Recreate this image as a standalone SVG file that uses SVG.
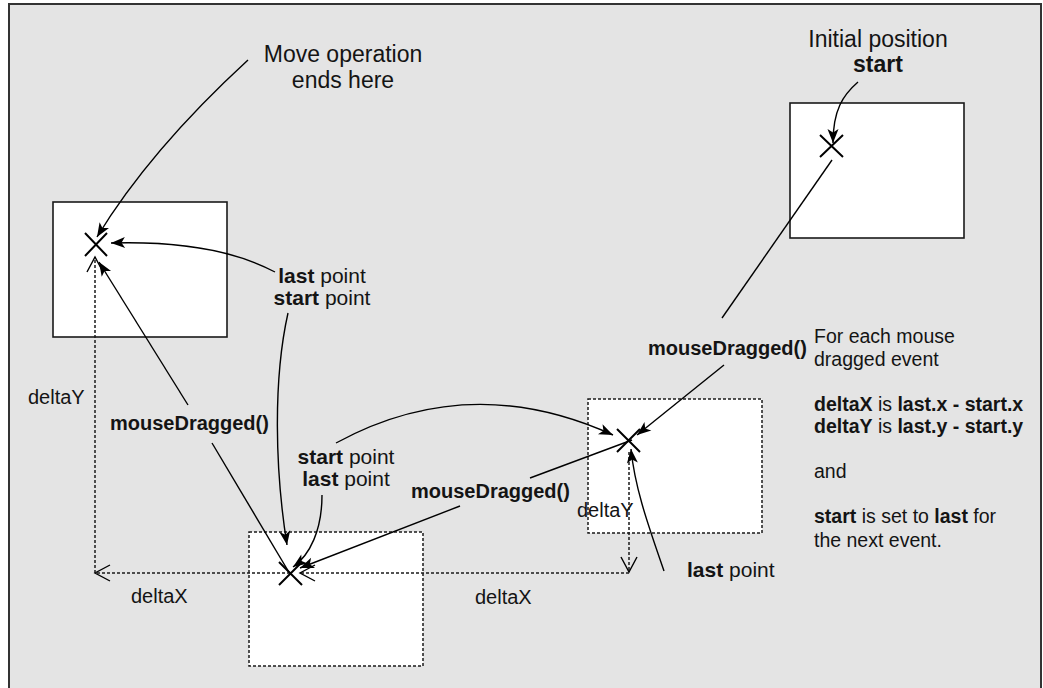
<svg xmlns="http://www.w3.org/2000/svg" width="1043" height="688" viewBox="0 0 1043 688">
<style>
  text { font-family: "Liberation Sans", Arial, sans-serif; fill: #141414; }
  .t { font-size: 20px; }
  .p { font-size: 21px; }
  .big { font-size: 23px; }
  .note { font-size: 19.5px; }
  .b { font-weight: bold; }
  .box { fill: #ffffff; stroke: #1a1a1a; stroke-width: 1.6; }
  .dbox { fill: #ffffff; stroke: #1a1a1a; stroke-width: 1.5; stroke-dasharray: 3 2; }
  .xm { stroke: #000; stroke-width: 2; fill: none; }
  .c { stroke: #000; stroke-width: 1.4; fill: none; }
  .ca { stroke: #000; stroke-width: 1.4; fill: none; marker-end: url(#ah); }
  .da { stroke: #1a1a1a; stroke-width: 1.5; fill: none; stroke-dasharray: 3 2; marker-end: url(#oh); }
</style>
<defs>
  <marker id="ah" viewBox="-15 -6 16 12" refX="0" refY="0" markerWidth="16" markerHeight="12" markerUnits="userSpaceOnUse" orient="auto">
    <path d="M0,0 L-14,-5.5 L-10.5,0 L-14,5.5 Z" fill="#000"/>
  </marker>
  <marker id="oh" viewBox="-17 -10 19 20" refX="0" refY="0" markerWidth="19" markerHeight="20" markerUnits="userSpaceOnUse" orient="auto">
    <path d="M-15,-8 L0,0 L-15,8" fill="none" stroke="#000" stroke-width="1.4"/>
  </marker>
</defs>
<rect x="0" y="0" width="1043" height="688" fill="#ffffff"/>
<rect x="9" y="4" width="1032" height="720" fill="#e4e4e4" stroke="#333333" stroke-width="2"/>

<g id="node-end">
  <rect class="box" x="53" y="202" width="174" height="135"/>
  <path class="xm" d="M85,233 L107,256 M107,233 L85,256"/>
</g>
<g id="node-start">
  <rect class="box" x="790" y="103" width="174" height="135"/>
  <path class="xm" d="M820,135 L843,157 M843,135 L820,157"/>
</g>
<g id="node-b">
  <rect class="dbox" x="588" y="399" width="174" height="134"/>
  <path class="xm" d="M617,429 L640,452 M640,429 L617,452"/>
</g>
<g id="node-c">
  <rect class="dbox" x="249" y="532" width="174" height="134"/>
  <path class="xm" d="M279,562 L302,585 M302,562 L279,585"/>
</g>

<g id="connectors">
  <!-- dotted deltas -->
  <path class="da" d="M629,452 L629,572"/>
  <path class="da" d="M629,573 L300,573"/>
  <path class="da" d="M290,573 L95,573"/>
  <path class="da" d="M95,573 L95,257"/>
  <!-- annotations -->
  <path class="ca" d="M248,60 Q150,150 97,237"/>
  <path class="ca" d="M858,82 C843,95 833,110 833,143"/>
  <path class="ca" d="M275,272 Q215,240 111,243"/>
  <path class="ca" d="M288,313 C273,380 275,470 287,545"/>
  <path class="ca" d="M336,443 Q470,370 613,435"/>
  <path class="ca" d="M322,495 C322,530 310,555 293,567"/>
  <path class="ca" d="M664,571 C650,530 635,490 631,449"/>
  <!-- mouseDragged moves -->
  <path class="c" d="M832,160 L722,318"/>
  <path class="ca" d="M724,365 L637,435"/>
  <path class="c" d="M632,440 L530,478"/>
  <path class="ca" d="M460,506 L300,568"/>
  <path class="c" d="M290,574 L212,443"/>
  <path class="ca" d="M188,405 L99,262"/>
</g>

<g id="labels">
  <text class="big" x="343" y="62" text-anchor="middle">Move operation</text>
  <text class="big" x="343" y="88" text-anchor="middle">ends here</text>
  <text class="big" x="878" y="47" text-anchor="middle">Initial position</text>
  <text class="big b" x="878" y="72" text-anchor="middle">start</text>

  <text class="p" x="322" y="283" text-anchor="middle"><tspan class="b">last</tspan> point</text>
  <text class="p" x="322" y="305" text-anchor="middle"><tspan class="b">start</tspan> point</text>

  <text class="p" x="346" y="464" text-anchor="middle"><tspan class="b">start</tspan> point</text>
  <text class="p" x="346" y="486" text-anchor="middle"><tspan class="b">last</tspan> point</text>

  <text class="p" x="687" y="577"><tspan class="b">last</tspan> point</text>

  <text class="t b" x="110" y="430">mouseDragged()</text>
  <text class="t b" x="411" y="498">mouseDragged()</text>
  <text class="t b" x="648" y="355">mouseDragged()</text>

  <text class="t" x="28" y="404">deltaY</text>
  <text class="t" x="577" y="517">deltaY</text>
  <text class="t" x="131" y="603">deltaX</text>
  <text class="t" x="475" y="604">deltaX</text>

  <g id="note">
    <text class="note" x="814" y="343">For each mouse</text>
    <text class="note" x="814" y="366">dragged event</text>
    <text class="note" x="814" y="411"><tspan class="b">deltaX</tspan> is <tspan class="b">last.x - start.x</tspan></text>
    <text class="note" x="814" y="433"><tspan class="b">deltaY</tspan> is <tspan class="b">last.y - start.y</tspan></text>
    <text class="note" x="814" y="478">and</text>
    <text class="note" x="814" y="523"><tspan class="b">start</tspan> is set to <tspan class="b">last</tspan> for</text>
    <text class="note" x="814" y="547">the next event.</text>
  </g>
</g>
</svg>
